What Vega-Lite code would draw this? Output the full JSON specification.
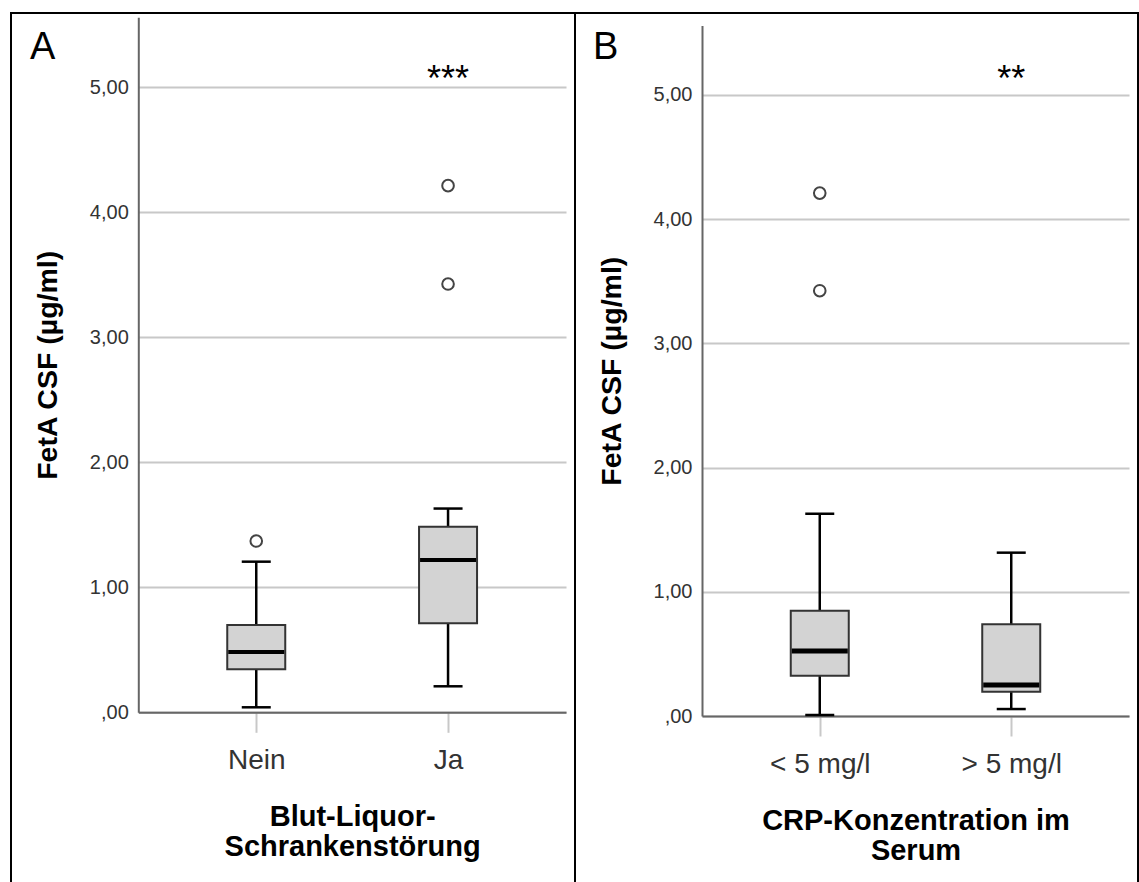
{
  "$schema": "https://vega.github.io/schema/vega-lite/v6.json",
  "padding": {"left": 10, "top": 12, "right": 0, "bottom": -4},
  "background": "white",
  "spacing": 0,
  "bounds": "flush",
  "config": {
    "view": {"stroke": "black", "strokeWidth": 2},
    "font": "Liberation Sans",
    "axis": {"labelFont": "Liberation Sans", "titleFont": "Liberation Sans"}
  },
  "datasets": {
    "boxA": [
      {"g": "Nein", "lower": 0.04, "q1": 0.344, "median": 0.482, "q3": 0.698, "upper": 1.205},
      {"g": "Ja", "lower": 0.208, "q1": 0.712, "median": 1.218, "q3": 1.485, "upper": 1.63}
    ],
    "outA": [
      {"g": "Nein", "v": 1.37},
      {"g": "Ja", "v": 4.213},
      {"g": "Ja", "v": 3.426}
    ],
    "sigA": [{"g": "Ja", "label": "***", "y": 4.97}],
    "boxB": [
      {"g": "< 5 mg/l", "lower": 0.008, "q1": 0.325, "median": 0.523, "q3": 0.848, "upper": 1.629},
      {"g": "> 5 mg/l", "lower": 0.056, "q1": 0.196, "median": 0.25, "q3": 0.738, "upper": 1.315}
    ],
    "outB": [
      {"g": "< 5 mg/l", "v": 4.21},
      {"g": "< 5 mg/l", "v": 3.424}
    ],
    "sigB": [{"g": "> 5 mg/l", "label": "**", "y": 5.03}]
  },
  "hconcat": [
    {
      "width": 564,
      "height": 872,
      "title": {"text": "A", "anchor": "start", "frame": "group", "orient": "top", "offset": -84, "dx": 19, "fontSize": 38, "fontWeight": "normal", "color": "black", "baseline": "alphabetic", "font": "Liberation Sans"},
      "layer": [
        {
          "data": {"name": "boxA"},
          "mark": {"type": "rule", "strokeWidth": 2.5, "color": "black"},
          "encoding": {
            "x": {
              "field": "g", "type": "nominal",
              "scale": {"type": "point", "domain": ["Nein", "Ja"], "range": [127.3, 555], "padding": 0.615},
              "axis": {
                "title": ["Blut-Liquor-", "Schrankenstörung"],
                "titleFontSize": 29, "titleFontWeight": "bold", "titleColor": "black", "titlePadding": 28, "titleLineHeight": 30,
                "labelAngle": 0, "labelFontSize": 28, "labelColor": "#333", "labelPadding": 14,
                "tickSize": 20, "tickColor": "#c8c8c8", "tickWidth": 2,
                "domainColor": "#666", "domainWidth": 2, "grid": false,
                "offset": -172.7
              }
            },
            "y": {
              "field": "lower", "type": "quantitative",
              "scale": {"domain": [0, 5.56], "range": [699.3, 4.3], "nice": false},
              "axis": {
                "title": "FetA CSF (µg/ml)",
                "titleFontSize": 28.5, "titleFontWeight": "bold", "titleColor": "black", "titlePadding": 27,
                "values": [0, 1, 2, 3, 4, 5],
                "labelExpr": "datum.value == 0 ? ',00' : replace(format(datum.value, '.2f'), '.', ',')",
                "labelFontSize": 20, "labelColor": "#333", "labelPadding": 10, "ticks": false,
                "domainColor": "#666", "domainWidth": 2,
                "grid": true, "gridColor": "#c8c8c8", "gridWidth": 2,
                "offset": -127.3
              }
            },
            "y2": {"field": "q1"}
          }
        },
        {
          "data": {"name": "boxA"},
          "mark": {"type": "rule", "strokeWidth": 2.5, "color": "black"},
          "encoding": {
            "x": {"field": "g", "type": "nominal"},
            "y": {"field": "q3", "type": "quantitative"},
            "y2": {"field": "upper"}
          }
        },
        {
          "data": {"name": "boxA"},
          "mark": {"type": "tick", "size": 29, "thickness": 2.5, "color": "black", "opacity": 1},
          "encoding": {
            "x": {"field": "g", "type": "nominal"},
            "y": {"field": "lower", "type": "quantitative"}
          }
        },
        {
          "data": {"name": "boxA"},
          "mark": {"type": "tick", "size": 29, "thickness": 2.5, "color": "black", "opacity": 1},
          "encoding": {
            "x": {"field": "g", "type": "nominal"},
            "y": {"field": "upper", "type": "quantitative"}
          }
        },
        {
          "data": {"name": "boxA"},
          "mark": {"type": "bar", "size": 58, "fill": "#d3d3d3", "stroke": "#333", "strokeWidth": 2},
          "encoding": {
            "x": {"field": "g", "type": "nominal"},
            "y": {"field": "q1", "type": "quantitative"},
            "y2": {"field": "q3"}
          }
        },
        {
          "data": {"name": "boxA"},
          "mark": {"type": "tick", "size": 56, "thickness": 4, "color": "black", "opacity": 1},
          "encoding": {
            "x": {"field": "g", "type": "nominal"},
            "y": {"field": "median", "type": "quantitative"}
          }
        },
        {
          "data": {"name": "outA"},
          "mark": {"type": "point", "shape": "circle", "size": 135, "fill": "white", "stroke": "#444", "strokeWidth": 2, "opacity": 1, "filled": true},
          "encoding": {
            "x": {"field": "g", "type": "nominal"},
            "y": {"field": "v", "type": "quantitative"}
          }
        },
        {
          "data": {"name": "sigA"},
          "mark": {"type": "text", "fontSize": 36, "color": "black", "align": "center", "baseline": "alphabetic"},
          "encoding": {
            "x": {"field": "g", "type": "nominal"},
            "y": {"field": "y", "type": "quantitative"},
            "text": {"field": "label"}
          }
        }
      ]
    },
    {
      "width": 563,
      "height": 872,
      "title": {"text": "B", "anchor": "start", "frame": "group", "orient": "top", "offset": -84, "dx": 18, "fontSize": 38, "fontWeight": "normal", "color": "black", "baseline": "alphabetic", "font": "Liberation Sans"},
      "layer": [
        {
          "data": {"name": "boxB"},
          "mark": {"type": "rule", "strokeWidth": 2.5, "color": "black"},
          "encoding": {
            "x": {
              "field": "g", "type": "nominal",
              "scale": {"type": "point", "domain": ["< 5 mg/l", "> 5 mg/l"], "range": [127, 554], "padding": 0.615},
              "axis": {
                "title": ["CRP-Konzentration im", "Serum"],
                "titleFontSize": 29, "titleFontWeight": "bold", "titleColor": "black", "titlePadding": 28, "titleLineHeight": 30,
                "labelAngle": 0, "labelFontSize": 28, "labelColor": "#333", "labelPadding": 14,
                "tickSize": 20, "tickColor": "#c8c8c8", "tickWidth": 2,
                "domainColor": "#666", "domainWidth": 2, "grid": false,
                "offset": -169
              }
            },
            "y": {
              "field": "lower", "type": "quantitative",
              "scale": {"domain": [0, 5.56], "range": [703, 12.4], "nice": false},
              "axis": {
                "title": "FetA CSF (µg/ml)",
                "titleFontSize": 28.5, "titleFontWeight": "bold", "titleColor": "black", "titlePadding": 27,
                "values": [0, 1, 2, 3, 4, 5],
                "labelExpr": "datum.value == 0 ? ',00' : replace(format(datum.value, '.2f'), '.', ',')",
                "labelFontSize": 20, "labelColor": "#333", "labelPadding": 10, "ticks": false,
                "domainColor": "#666", "domainWidth": 2,
                "grid": true, "gridColor": "#c8c8c8", "gridWidth": 2,
                "offset": -127
              }
            },
            "y2": {"field": "q1"}
          }
        },
        {
          "data": {"name": "boxB"},
          "mark": {"type": "rule", "strokeWidth": 2.5, "color": "black"},
          "encoding": {
            "x": {"field": "g", "type": "nominal"},
            "y": {"field": "q3", "type": "quantitative"},
            "y2": {"field": "upper"}
          }
        },
        {
          "data": {"name": "boxB"},
          "mark": {"type": "tick", "size": 29, "thickness": 2.5, "color": "black", "opacity": 1},
          "encoding": {
            "x": {"field": "g", "type": "nominal"},
            "y": {"field": "lower", "type": "quantitative"}
          }
        },
        {
          "data": {"name": "boxB"},
          "mark": {"type": "tick", "size": 29, "thickness": 2.5, "color": "black", "opacity": 1},
          "encoding": {
            "x": {"field": "g", "type": "nominal"},
            "y": {"field": "upper", "type": "quantitative"}
          }
        },
        {
          "data": {"name": "boxB"},
          "mark": {"type": "bar", "size": 58, "fill": "#d3d3d3", "stroke": "#333", "strokeWidth": 2},
          "encoding": {
            "x": {"field": "g", "type": "nominal"},
            "y": {"field": "q1", "type": "quantitative"},
            "y2": {"field": "q3"}
          }
        },
        {
          "data": {"name": "boxB"},
          "mark": {"type": "tick", "size": 56, "thickness": 5, "color": "black", "opacity": 1},
          "encoding": {
            "x": {"field": "g", "type": "nominal"},
            "y": {"field": "median", "type": "quantitative"}
          }
        },
        {
          "data": {"name": "outB"},
          "mark": {"type": "point", "shape": "circle", "size": 135, "fill": "white", "stroke": "#444", "strokeWidth": 2, "opacity": 1, "filled": true},
          "encoding": {
            "x": {"field": "g", "type": "nominal"},
            "y": {"field": "v", "type": "quantitative"}
          }
        },
        {
          "data": {"name": "sigB"},
          "mark": {"type": "text", "fontSize": 36, "color": "black", "align": "center", "baseline": "alphabetic"},
          "encoding": {
            "x": {"field": "g", "type": "nominal"},
            "y": {"field": "y", "type": "quantitative"},
            "text": {"field": "label"}
          }
        }
      ]
    }
  ]
}
